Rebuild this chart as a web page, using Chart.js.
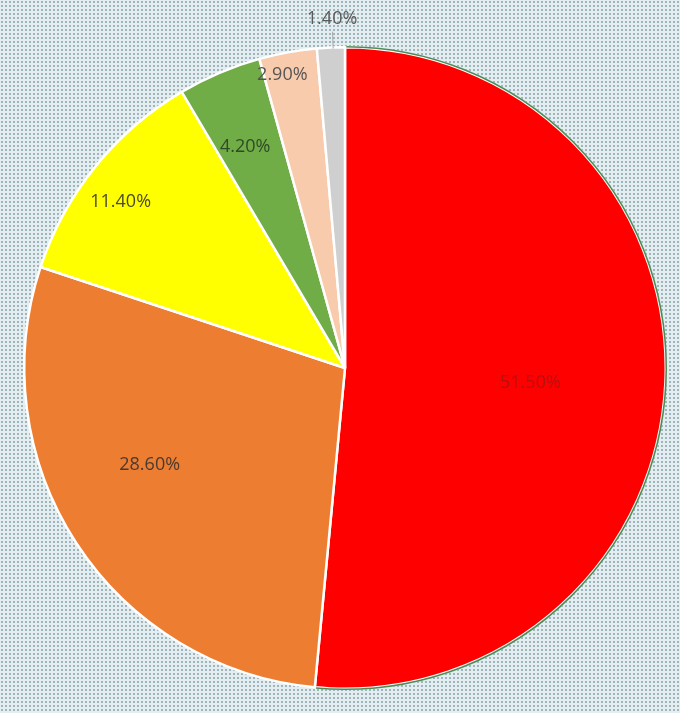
<!DOCTYPE html>
<html lang="en">
<head>
    <meta charset="UTF-8">
    <title>Pie</title>
    <script src="https://cdn.jsdelivr.net/npm/chart.js"></script>
    <style>
        body {
            margin: 0;
            background-color: #e4edf0;
            background-image: radial-gradient(circle, #9fb5bd 1px, transparent 1.4px);
            background-size: 4px 4px;
        }

        .wrap {
            width: 680px;
            height: 713px;
        }
    </style>
</head>
<body>
    <div class="wrap">
        <canvas id="chart1" width="680" height="713"></canvas>
    </div>
    <script>
        const labels = ['A', 'B', 'C', 'D', 'E', 'F'];
        const values = [51.5, 28.6, 11.4, 4.2, 2.9, 1.4];
        const colors = ['#ff0000', '#ed7d31', '#ffff00', '#70ad47', '#f8cbad', '#cfcfcf'];

        // where Excel put each data label: fraction of radius and nudge in degrees
        const labelRadius = [0.58, 0.68, 0.87, 0.755, 0.935, 1.09];
        const labelNudge = [2, 6.7, -2.4, -1.3, -1.8, 0.4];
        const labelColors = ['#b51010', '#4a3a30', '#4a4a30', '#2f4a25', '#555555', '#595959'];

        const pieLabels = {
            id: 'pieLabels',
            afterDatasetsDraw(chart) {
                const ctx = chart.ctx;
                const meta = chart.getDatasetMeta(0);
                ctx.save();
                // green edge round the big red slice
                const first = meta.data[0].getProps(['x', 'y', 'startAngle', 'endAngle', 'outerRadius'], true);
                ctx.beginPath();
                ctx.arc(first.x, first.y, first.outerRadius + 0.5, first.startAngle + 0.004, first.endAngle - 0.004);
                ctx.strokeStyle = 'rgba(45,120,60,0.85)';
                ctx.lineWidth = 1.6;
                ctx.stroke();

                ctx.font = '18px "Open Sans"';
                ctx.textAlign = 'center';
                ctx.textBaseline = 'middle';
                meta.data.forEach(function (arc, i) {
                    const p = arc.getProps(['x', 'y', 'startAngle', 'endAngle', 'outerRadius'], true);
                    const a = (p.startAngle + p.endAngle) / 2 + labelNudge[i] * Math.PI / 180;
                    const r = p.outerRadius * labelRadius[i];
                    const tx = p.x + Math.cos(a) * r;
                    const ty = p.y + Math.sin(a) * r;
                    if (labelRadius[i] > 1) {
                        ctx.beginPath();
                        ctx.moveTo(p.x + Math.cos(a) * (p.outerRadius - 1), p.y + Math.sin(a) * (p.outerRadius - 1));
                        ctx.lineTo(p.x + Math.cos(a) * (r - 13), p.y + Math.sin(a) * (r - 13));
                        ctx.strokeStyle = '#a6a6a6';
                        ctx.lineWidth = 1;
                        ctx.stroke();
                    }
                    ctx.fillStyle = labelColors[i];
                    ctx.fillText(values[i].toFixed(2) + '%', tx, ty);
                });
                ctx.restore();
            }
        };

        new Chart(document.getElementById('chart1'), {
            type: 'pie',
            data: {
                labels: labels,
                datasets: [{
                    data: values,
                    backgroundColor: colors,
                    borderColor: '#ffffff',
                    borderWidth: 2.5
                }]
            },
            options: {
                responsive: false,
                animation: false,
                layout: {
                    padding: { top: 46, bottom: 23, left: 23, right: 13 }
                },
                plugins: {
                    legend: { display: false },
                    tooltip: { enabled: false }
                }
            },
            plugins: [pieLabels]
        });
    </script>
</body>
</html>
